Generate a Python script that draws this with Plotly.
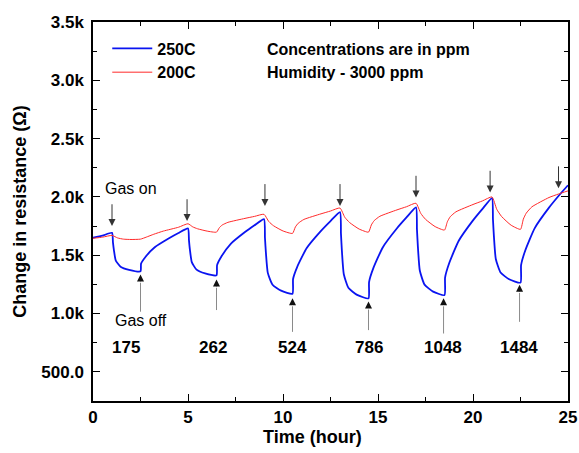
import plotly.graph_objects as go

# ---- data ----
time_250 = [0, 0.5, 1.0,
            1.05, 1.1, 1.2, 1.45, 1.9, 2.5,
            2.53, 2.75, 3.25, 4.0, 4.5, 5.0,
            5.05, 5.1, 5.2, 5.45, 5.9, 6.5,
            6.53, 6.75, 7.25, 8.0, 8.5, 9.0,
            9.05, 9.1, 9.2, 9.45, 9.9, 10.5,
            10.53, 10.75, 11.25, 12.0, 12.5, 13.0,
            13.05, 13.1, 13.2, 13.45, 13.9, 14.5,
            14.53, 14.75, 15.25, 16.0, 16.5, 17.0,
            17.05, 17.1, 17.2, 17.45, 17.9, 18.5,
            18.53, 18.75, 19.25, 20.0, 20.5, 21.0,
            21.05, 21.1, 21.2, 21.45, 21.9, 22.5,
            22.53, 22.75, 23.25, 24.0, 24.5, 25.0]
res_250 = [1650, 1668, 1692,
           1610, 1544, 1454, 1402, 1375, 1362,
           1428, 1483, 1568, 1645, 1690, 1730,
           1630, 1549, 1441, 1376, 1344, 1328,
           1415, 1487, 1598, 1699, 1757, 1810,
           1650, 1522, 1349, 1247, 1196, 1170,
           1296, 1401, 1562, 1709, 1793, 1870,
           1685, 1537, 1337, 1219, 1160, 1130,
           1270, 1387, 1567, 1731, 1824, 1910,
           1722, 1572, 1369, 1248, 1188, 1158,
           1308, 1433, 1624, 1799, 1898, 1990,
           1809, 1664, 1468, 1352, 1294, 1265,
           1415, 1541, 1733, 1908, 2008, 2100]

time_200 = [0, 0.5, 1.0,
            1.3, 1.6, 2.0, 2.5,
            2.8, 3.2, 3.7, 4.5, 5.0,
            5.25, 5.5, 6.0, 6.5,
            6.65, 6.8, 7.1, 8.0, 8.5, 9.0,
            9.25, 9.5, 10.0, 10.5,
            10.65, 10.8, 11.1, 12.0, 12.5, 13.0,
            13.25, 13.5, 14.0, 14.5,
            14.65, 14.8, 15.1, 16.0, 16.5, 17.0,
            17.25, 17.5, 18.0, 18.5,
            18.65, 18.8, 19.1, 20.0, 20.5, 21.0,
            21.25, 21.5, 22.0, 22.5,
            22.65, 22.8, 23.1, 24.0, 24.5, 25.0]
res_200 = [1645, 1655, 1670,
           1648, 1638, 1635, 1638,
           1655, 1680, 1707, 1740, 1770,
           1743, 1727, 1707, 1698,
           1736, 1759, 1782, 1816, 1833, 1851,
           1789, 1753, 1708, 1687,
           1742, 1774, 1807, 1855, 1879, 1905,
           1826, 1781, 1725, 1698,
           1760, 1797, 1834, 1889, 1916, 1946,
           1859, 1808, 1746, 1716,
           1787, 1830, 1872, 1935, 1966, 2000,
           1894, 1833, 1758, 1722,
           1810, 1860, 1915, 1995, 2025, 2052]

gas_on_t = [1.0, 4.95, 9.05, 13.0, 17.0, 20.9, 24.5]
gas_on_tip = [1750, 1793, 1923, 1923, 1994, 2037, 2075]
gas_on_len = 200

gas_off_t = [2.5, 6.5, 10.5, 14.5, 18.45, 22.45]
gas_off_tip = [1334, 1291, 1132, 1104, 1132, 1247]
gas_off_tail = [1003, 1017, 830, 845, 816, 916]
gas_off_head = 70

conc_labels = ["175", "262", "524", "786", "1048", "1484"]
conc_t = [1.75, 6.3, 10.5, 14.5, 18.4, 22.4]
conc_y = 710

x_ticks = [0, 5, 10, 15, 20, 25]
y_ticks = [500, 1000, 1500, 2000, 2500, 3000, 3500]
y_ticktext = ["500.0", "1.0k", "1.5k", "2.0k", "2.5k", "3.0k", "3.5k"]

FONT = "Liberation Sans, Arial, sans-serif"

fig = go.Figure()
fig.add_trace(go.Scatter(x=time_250, y=res_250, mode="lines", name="250C",
                         line=dict(color="#0a14f0", width=1.8, shape="spline", smoothing=0.5)))
fig.add_trace(go.Scatter(x=time_200, y=res_200, mode="lines", name="200C",
                         line=dict(color="#ff2a2a", width=1, shape="spline", smoothing=0.5)))

ann = []
for t, tip in zip(gas_on_t, gas_on_tip):
    ann.append(dict(x=t, y=tip, ax=t, ay=tip + gas_on_len, xref="x", yref="y",
                    axref="x", ayref="y", text="", showarrow=True, arrowhead=2,
                    arrowsize=1.4, arrowwidth=1, arrowcolor="#333333", standoff=0))
for t, tip, tail in zip(gas_off_t, gas_off_tip, gas_off_tail):
    ann.append(dict(x=t, y=tip - gas_off_head, ax=t, ay=tail, xref="x", yref="y",
                    axref="x", ayref="y", text="", showarrow=True, arrowhead=0,
                    arrowwidth=1, arrowcolor="#8a8a8a", standoff=0))
    ann.append(dict(x=t, y=tip, ax=t, ay=tip - gas_off_head, xref="x", yref="y",
                    axref="x", ayref="y", text="", showarrow=True, arrowhead=2,
                    arrowsize=1.4, arrowwidth=1, arrowcolor="#111111", standoff=0))
for lab, t in zip(conc_labels, conc_t):
    ann.append(dict(x=t, y=conc_y, xref="x", yref="y", text=lab, showarrow=False,
                    font=dict(family=FONT, size=17, color="black", weight="bold")))
ann.append(dict(x=0.5, y=2069, xref="x", yref="y", text="Gas on", xanchor="left",
                showarrow=False, font=dict(family=FONT, size=16, color="black")))
ann.append(dict(x=1.05, y=940, xref="x", yref="y", text="Gas off", xanchor="left",
                showarrow=False, font=dict(family=FONT, size=16, color="black")))
ann.append(dict(x=(265 - 93) / 475, y=1 - (49 - 22) / 379, xref="paper", yref="paper",
                text="Concentrations are in ppm", xanchor="left", yanchor="middle",
                showarrow=False, font=dict(family=FONT, size=16, color="black", weight="bold")))
ann.append(dict(x=(265 - 93) / 475, y=1 - (72 - 22) / 379, xref="paper", yref="paper",
                text="Humidity - 3000 ppm", xanchor="left", yanchor="middle",
                showarrow=False, font=dict(family=FONT, size=16, color="black", weight="bold")))
ann.append(dict(x=(312 - 93) / 475, y=-(437 - 401) / 379, xref="paper", yref="paper",
                text="Time (hour)", xanchor="center", yanchor="middle",
                showarrow=False, font=dict(family=FONT, size=18, color="black", weight="bold")))

axis_common = dict(showline=True, linecolor="black", linewidth=1.5, mirror="ticks",
                   ticks="inside", ticklen=7, tickwidth=1.2, tickcolor="black",
                   showgrid=False, zeroline=False, automargin=False,
                   tickfont=dict(family=FONT, size=17, color="black", weight="bold"))

fig.update_layout(
    width=579, height=453,
    margin=dict(l=93, r=11, t=22, b=52),
    paper_bgcolor="white", plot_bgcolor="white",
    font=dict(family=FONT, color="black"),
    showlegend=True,
    legend=dict(x=0.03, y=0.975, xanchor="left", yanchor="top", bgcolor="rgba(0,0,0,0)",
                font=dict(family=FONT, size=16, color="black", weight="bold"),
                tracegroupgap=0, itemwidth=40),
    xaxis=dict(range=[0, 25], tickvals=x_ticks,
               minor=dict(ticks="inside", dtick=2.5, ticklen=4, tickcolor="black", tickwidth=1.2),
               **axis_common),
    yaxis=dict(range=[250, 3500], tickvals=y_ticks, ticktext=y_ticktext,
               minor=dict(ticks="inside", dtick=250, ticklen=4, tickcolor="black", tickwidth=1.2),
               title=dict(text="Change in resistance (Ω)", standoff=10,
                          font=dict(family=FONT, size=18, color="black", weight="bold")),
               ticklabelstandoff=4,
               **axis_common),
    annotations=ann,
)

fig.write_html("out.html", config={"displayModeBar": False},
               post_script="document.body.style.margin='0px';")
